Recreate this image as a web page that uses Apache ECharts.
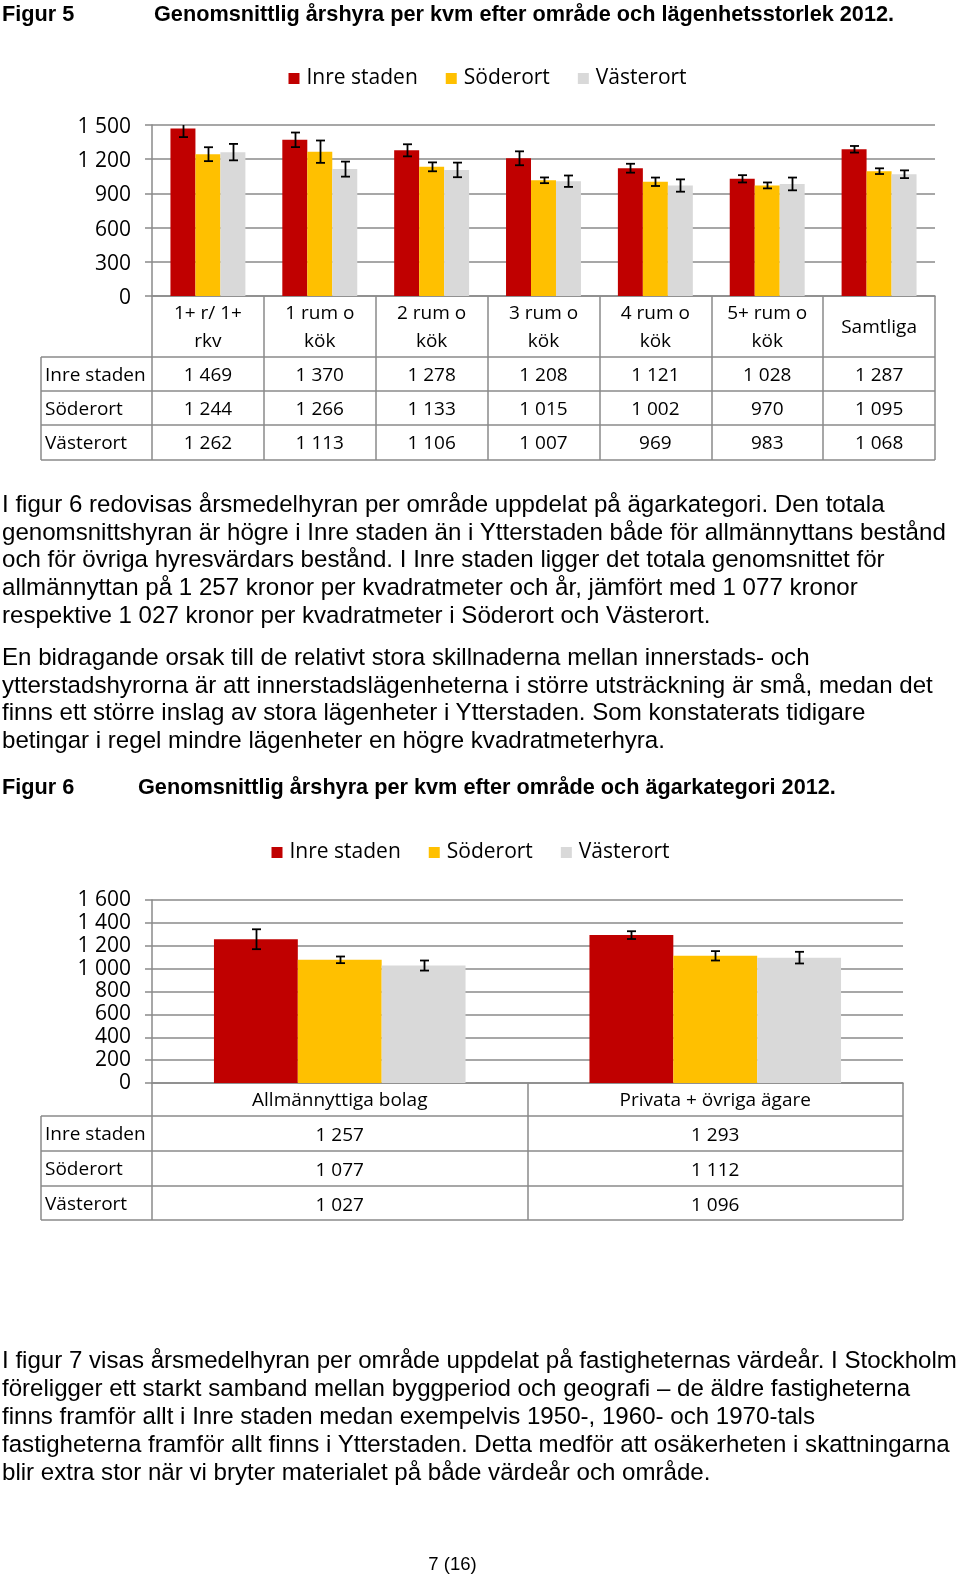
<!DOCTYPE html>
<html>
<head>
<meta charset="utf-8">
<script src="https://cdn.jsdelivr.net/npm/echarts@6/dist/echarts.min.js"></script>
<style>
html,body{margin:0;padding:0;background:#fff;}
body{width:960px;height:1577px;position:relative;overflow:hidden;}
#chart{position:absolute;left:0;top:0;width:960px;height:1577px;}
.t{position:absolute;left:2px;font-family:"Liberation Sans",Arial,sans-serif;color:#000;white-space:nowrap;}
.p{font-size:24.1px;line-height:27.7px;}
.h{font-size:21.7px;font-weight:bold;line-height:26px;}
</style>
</head>
<body>
<div id="chart"></div>
<div class="t h" style="top:1px;">Figur 5</div>
<div class="t h" style="top:1px;left:154px;">Genomsnittlig årshyra per kvm efter område och lägenhetsstorlek 2012.</div>
<div class="t p" style="top:490px;">I figur 6 redovisas årsmedelhyran per område uppdelat på ägarkategori. Den totala<br>genomsnittshyran är högre i Inre staden än i Ytterstaden både för allmännyttans bestånd<br>och för övriga hyresvärdars bestånd. I Inre staden ligger det totala genomsnittet för<br>allmännyttan på 1 257 kronor per kvadratmeter och år, jämfört med 1 077 kronor<br>respektive 1 027 kronor per kvadratmeter i Söderort och Västerort.</div>
<div class="t p" style="top:643px;">En bidragande orsak till de relativt stora skillnaderna mellan innerstads- och<br>ytterstadshyrorna är att innerstadslägenheterna i större utsträckning är små, medan det<br>finns ett större inslag av stora lägenheter i Ytterstaden. Som konstaterats tidigare<br>betingar i regel mindre lägenheter en högre kvadratmeterhyra.</div>
<div class="t h" style="top:774px;">Figur 6</div>
<div class="t h" style="top:774px;left:138px;">Genomsnittlig årshyra per kvm efter område och ägarkategori 2012.</div>
<div class="t p" style="top:1346px;line-height:27.9px;">I figur 7 visas årsmedelhyran per område uppdelat på fastigheternas värdeår. I Stockholm<br>föreligger ett starkt samband mellan byggperiod och geografi – de äldre fastigheterna<br>finns framför allt i Inre staden medan exempelvis 1950-, 1960- och 1970-tals<br>fastigheterna framför allt finns i Ytterstaden. Detta medför att osäkerheten i skattningarna<br>blir extra stor när vi bryter materialet på både värdeår och område.</div>
<div class="t" style="top:1553px;left:0;width:905px;text-align:center;font-size:18.5px;line-height:22px;">7 (16)</div>
<script>
// ---------- data ----------
const seriesNames = ['Inre staden', 'Söderort', 'Västerort'];

const fig5Categories = ['1+ r/ 1+\nrkv', '1 rum o\nkök', '2 rum o\nkök', '3 rum o\nkök', '4 rum o\nkök', '5+ rum o\nkök', 'Samtliga'];
const fig5Inre = [1469, 1370, 1278, 1208, 1121, 1028, 1287];
const fig5Soder = [1244, 1266, 1133, 1015, 1002, 970, 1095];
const fig5Vaster = [1262, 1113, 1106, 1007, 969, 983, 1068];
const fig5ErrInre = [75, 64, 53, 61, 39, 32, 29];
const fig5ErrSoder = [61, 98, 39, 25, 37, 26, 25];
const fig5ErrVaster = [72, 66, 64, 50, 54, 56, 34];
const fig5Ticks = [0, 300, 600, 900, 1200, 1500];

const fig6Categories = ['Allmännyttiga bolag', 'Privata + övriga ägare'];
const fig6Inre = [1257, 1293];
const fig6Soder = [1077, 1112];
const fig6Vaster = [1027, 1096];
const fig6ErrInre = [87, 34];
const fig6ErrSoder = [29, 41];
const fig6ErrVaster = [44, 51];
const fig6Ticks = [0, 200, 400, 600, 800, 1000, 1200, 1400, 1600];

// ---------- styling / layout ----------
const colors = ['#C00000', '#FFC000', '#D9D9D9'];
const gridCol = '#8a8a8a';
const FONT = '"Open Sans", "Noto Sans", sans-serif';

function fmt(v) {
  if (v >= 1000) return Math.floor(v / 1000) + ' ' + String(v % 1000).padStart(3, '0');
  return String(v);
}

// table borders (headH/rowH) and label line heights (lab*)
const L1 = { left: 152, right: 935, top: 125, bottom: 296, tableLeft: 41, headH: 61, rowH: [34, 34, 35],
  labHead2: [36, 19.5], labSp: 7, labHead1: 62.5, labRows: [34, 34, 35] };
const L2 = { left: 152, right: 903, top: 900, bottom: 1083, tableLeft: 41, headH: 33, rowH: [35, 35, 34],
  labHead2: [18, 17], labSp: 0.01, labHead1: 35, labRows: [35, 35, 35] };

const GAP1 = 0.33, GAP2 = 0.33;

function errSeries(vals, errs, k, gap, axisIdx) {
  return {
    type: 'custom',
    xAxisIndex: axisIdx, yAxisIndex: axisIdx,
    clip: true, silent: true, z: 10,
    data: vals.map((v, i) => [i, v, errs[i]]),
    encode: { x: 0, y: 1 },
    renderItem: function (params, api) {
      const c = api.coord([api.value(0), api.value(1)]);
      const band = api.size([1, 0])[0];
      const bw = band * (1 - gap) / 3;
      const x = Math.round(c[0] + (k - 1) * bw) + 0.5;
      const yt = api.coord([api.value(0), api.value(1) + api.value(2)])[1];
      const yb = api.coord([api.value(0), api.value(1) - api.value(2)])[1];
      const cap = 4.5;
      const st = { stroke: '#000', lineWidth: 1.8 };
      return {
        type: 'group',
        children: [
          { type: 'line', shape: { x1: x, y1: yt, x2: x, y2: yb }, style: st },
          { type: 'line', shape: { x1: x - cap, y1: yt, x2: x + cap, y2: yt }, style: st },
          { type: 'line', shape: { x1: x - cap, y1: yb, x2: x + cap, y2: yb }, style: st }
        ]
      };
    }
  };
}

function barSeries(name, vals, idx, gap, axisIdx) {
  return {
    type: 'bar', name: name, xAxisIndex: axisIdx, yAxisIndex: axisIdx,
    data: vals, barGap: '0%', barCategoryGap: (gap * 100) + '%',
    itemStyle: { color: colors[idx] }, silent: true
  };
}

function xAxisFor(cats, rows, L, axisIdx) {
  const tableH = L.headH + L.rowH.reduce((a, b) => a + b, 0);
  const base = { fontFamily: FONT, fontSize: 19, color: '#000' };
  return {
    type: 'category', gridIndex: axisIdx, data: cats, position: 'bottom',
    axisLine: { show: true, lineStyle: { color: gridCol, width: 1.5 } },
    axisTick: { show: true, interval: 0, length: tableH, lineStyle: { color: gridCol, width: 1.5 } },
    splitLine: { show: false },
    axisLabel: {
      interval: 0, margin: 0, verticalAlign: 'top', align: 'center',
      formatter: function (value, i) {
        const parts = value.split('\n');
        let head;
        if (parts.length === 2) head = '{ha|' + parts[0] + '}\n{hb|' + parts[1] + '}\n{sp| }';
        else head = '{h1|' + parts[0] + '}';
        const body = rows.map((arr, r) => '{r' + r + '|' + fmt(arr[i]) + '}').join('\n');
        return head + '\n' + body;
      },
      rich: {
        ha: Object.assign({ lineHeight: L.labHead2[0] }, base),
        hb: Object.assign({ lineHeight: L.labHead2[1] }, base),
        sp: { fontSize: 1, lineHeight: L.labSp },
        h1: Object.assign({ lineHeight: L.labHead1 }, base),
        r0: Object.assign({ lineHeight: L.labRows[0] }, base),
        r1: Object.assign({ lineHeight: L.labRows[1] }, base),
        r2: Object.assign({ lineHeight: L.labRows[2] }, base)
      }
    }
  };
}

function yAxisFor(ticks, axisIdx, nudge) {
  const label = nudge ? {
    margin: 21,
    formatter: v => '{a|' + fmt(v) + '}',
    rich: { a: { fontFamily: FONT, fontSize: 21, color: '#000', lineHeight: 16, padding: [4, 0, 0, 0] } }
  } : {
    margin: 21, fontFamily: FONT, fontSize: 21, color: '#000', formatter: fmt
  };
  return {
    type: 'value', gridIndex: axisIdx, min: ticks[0], max: ticks[ticks.length - 1],
    interval: ticks[1] - ticks[0],
    axisLine: { show: true, lineStyle: { color: gridCol, width: 1.5 } },
    axisTick: { show: true, length: 7, lineStyle: { color: gridCol, width: 1.5 } },
    splitLine: { show: true, lineStyle: { color: gridCol, width: 1.6 } },
    axisLabel: label
  };
}

function tableGraphics(L) {
  const g = [];
  let y = L.bottom + L.headH;
  const ys = [y];
  L.rowH.forEach(h => { y += h; ys.push(y); });
  ys.forEach(yy => g.push({
    type: 'line', shape: { x1: L.tableLeft, y1: yy, x2: L.right, y2: yy },
    style: { stroke: gridCol, lineWidth: 1.5 }, silent: true
  }));
  g.push({
    type: 'line', shape: { x1: L.tableLeft, y1: ys[0], x2: L.tableLeft, y2: ys[ys.length - 1] },
    style: { stroke: gridCol, lineWidth: 1.5 }, silent: true
  });
  seriesNames.forEach((n, r) => {
    g.push({
      type: 'text', left: L.tableLeft + 4, top: ys[r] + (ys[r + 1] - ys[r]) / 2 - 11.5, silent: true,
      style: { text: n, fontFamily: FONT, fontSize: 19, fill: '#000', lineHeight: 26 }
    });
  });
  return g;
}

const chart = echarts.init(document.getElementById('chart'), null, { renderer: 'canvas' });
const legendCommon = {
  data: seriesNames, icon: 'rect', itemWidth: 11, itemHeight: 11, itemGap: 28, padding: 0,
  textStyle: { fontFamily: FONT, fontSize: 21, color: '#000', padding: [0, 0, 0, 2] },
  selectedMode: false
};
chart.setOption({
  animation: false,
  backgroundColor: 'transparent',
  legend: [
    Object.assign({ left: 288.5, top: 68 }, legendCommon),
    Object.assign({ left: 271.5, top: 842 }, legendCommon)
  ],
  grid: [
    { left: L1.left, top: L1.top, width: L1.right - L1.left, height: L1.bottom - L1.top, outerBoundsMode: 'none' },
    { left: L2.left, top: L2.top, width: L2.right - L2.left, height: L2.bottom - L2.top, outerBoundsMode: 'none' }
  ],
  xAxis: [
    xAxisFor(fig5Categories, [fig5Inre, fig5Soder, fig5Vaster], L1, 0),
    xAxisFor(fig6Categories, [fig6Inre, fig6Soder, fig6Vaster], L2, 1)
  ],
  yAxis: [yAxisFor(fig5Ticks, 0, true), yAxisFor(fig6Ticks, 1, false)],
  series: [
    barSeries(seriesNames[0], fig5Inre, 0, GAP1, 0),
    barSeries(seriesNames[1], fig5Soder, 1, GAP1, 0),
    barSeries(seriesNames[2], fig5Vaster, 2, GAP1, 0),
    errSeries(fig5Inre, fig5ErrInre, 0, GAP1, 0),
    errSeries(fig5Soder, fig5ErrSoder, 1, GAP1, 0),
    errSeries(fig5Vaster, fig5ErrVaster, 2, GAP1, 0),
    barSeries(seriesNames[0], fig6Inre, 0, GAP2, 1),
    barSeries(seriesNames[1], fig6Soder, 1, GAP2, 1),
    barSeries(seriesNames[2], fig6Vaster, 2, GAP2, 1),
    errSeries(fig6Inre, fig6ErrInre, 0, GAP2, 1),
    errSeries(fig6Soder, fig6ErrSoder, 1, GAP2, 1),
    errSeries(fig6Vaster, fig6ErrVaster, 2, GAP2, 1)
  ],
  graphic: { elements: tableGraphics(L1).concat(tableGraphics(L2)) }
});
</script>
</body>
</html>
